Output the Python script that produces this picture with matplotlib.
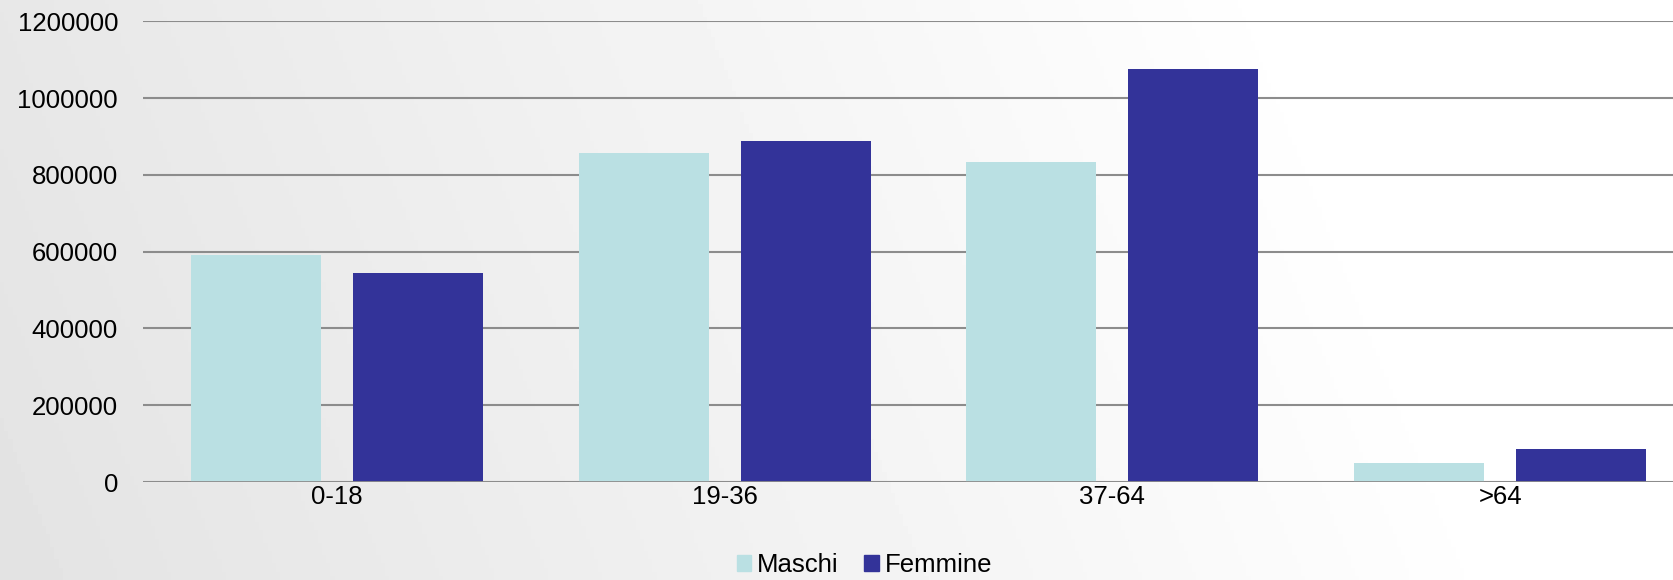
import numpy as np
import matplotlib
matplotlib.use("Agg")
import matplotlib.pyplot as plt
from matplotlib.patches import Patch

categories = ["0-18", "19-36", "37-64", ">64"]
maschi = [591000, 856000, 834000, 50000]
femmine = [544000, 889000, 1075000, 85000]
yticks = [0, 200000, 400000, 600000, 800000, 1000000, 1200000]

c_maschi = "#bae0e3"
c_femmine = "#333399"

plt.rcParams['font.family'] = ['Liberation Sans', 'DejaVu Sans']
fs = 18.5

fig = plt.figure(figsize=(16.73, 5.8), dpi=100)

# background gradient (grey on the left, white on the right)
bg = fig.add_axes([0, 0, 1, 1], zorder=-10)
gx, gy = np.meshgrid(np.linspace(0, 1, 400), np.linspace(0, 1, 140))
shade = 0.89 + 0.11 * np.clip(gx * 1.1 + (1 - gy) * 0.15, 0, 1)
bg.imshow(shade, cmap="gray", vmin=0, vmax=1, aspect="auto", extent=[0, 1, 0, 1])
bg.axis("off")

W, H = 1673, 580
left, right = 143, 1694
y0, ytop = 482, 21.3
ax = fig.add_axes([left / W, 1 - y0 / H, (right - left) / W, (y0 - ytop) / H])
ax.patch.set_alpha(0)

x = np.arange(len(categories))
bw = 0.335
off = 0.209
ax.bar(x - off, maschi, bw, color=c_maschi, zorder=3)
ax.bar(x + off, femmine, bw, color=c_femmine, zorder=3)

ax.set_xlim(-0.5, len(categories) - 0.5)
ax.set_ylim(0, 1200000)
ax.set_yticks(yticks)
ax.set_yticklabels([str(v) for v in yticks], fontsize=fs)
ax.set_xticks(x)
ax.set_xticklabels(categories, fontsize=fs)
ax.tick_params(axis="y", length=0, pad=18)
ax.tick_params(axis="x", length=0, pad=2)
ax.grid(axis="y", color="#8c8c8c", linewidth=1.5, zorder=1)
for s in ["top", "right", "left", "bottom"]:
    ax.spines[s].set_visible(False)
ax.axhline(0, color="#8c8c8c", linewidth=2, zorder=4)

handles = [Patch(color=c_maschi, label="Maschi"), Patch(color=c_femmine, label="Femmine")]
fig.legend(handles=handles, loc="center", bbox_to_anchor=(864.5 / W, 1 - 565 / H),
           ncol=2, frameon=False, fontsize=fs, handlelength=0.55, handleheight=0.55,
           handletextpad=0.25, columnspacing=1.0, borderpad=0)

fig.savefig("out.png", dpi=100)
